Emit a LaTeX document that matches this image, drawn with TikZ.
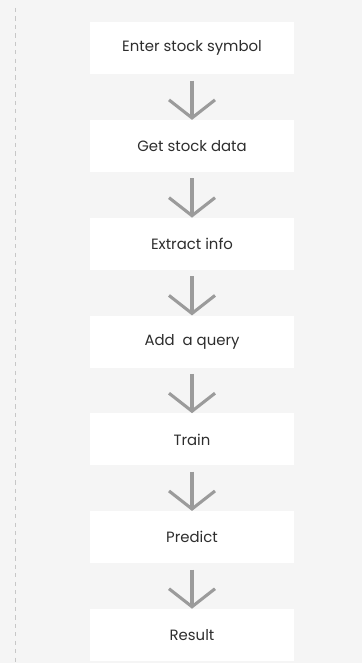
\documentclass[tikz,border=0pt]{standalone}
\usepackage{fontspec}
\setmainfont{Poppins}
\usepackage{xcolor}
\usetikzlibrary{arrows.meta, positioning}
\definecolor{pagegray}{RGB}{245,245,245}
\definecolor{arrowgray}{RGB}{155,155,155}
\definecolor{textgray}{RGB}{45,45,45}

\begin{document}
\begin{tikzpicture}[node distance=11.3mm, every node/.style={rectangle, fill=white, minimum width=50.8mm, minimum height=13mm, font=\fontsize{10.6}{12}\selectfont, text=textgray}]
  \fill[pagegray] (0,0) rectangle (9.05,-16.575);
  \useasboundingbox (0,0) rectangle (9.05,-16.575);
  \coordinate (railtop) at (0.375,-0.2); \coordinate (railbot) at (0.375,-16.575);
  \draw[black!22, dashed, line width=0.7pt] (railtop) -- (railbot);
  \node (S) at (4.8,-1.21) {Enter stock symbol};
  \node (G) [below=of S] {Get stock data};
  \node (E) [below=of G] {Extract info};
  \node (Q) [below=of E] {Add\ \ a query};
  \node (T) [below=of Q] {Train};
  \node (P) [below=of T] {Predict};
  \node (R) [below=of P] {Result};
  \foreach \a/\b in {S/G, G/E, E/Q, Q/T, T/P, P/R}
    \draw[arrowgray, line width=2.2pt, -{Straight Barb[length=4.5mm, width=11.5mm]}, shorten <=1.5mm] (\a) -- (\b);
\end{tikzpicture}
\end{document}
